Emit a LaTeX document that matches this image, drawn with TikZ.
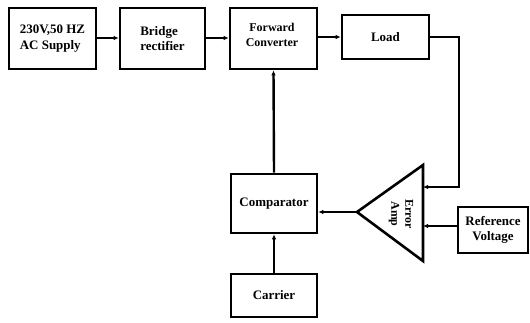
\documentclass[tikz,border=0pt]{standalone}
\usepackage{fontspec}
\setmainfont{Liberation Serif}
\usetikzlibrary{positioning}
\usetikzlibrary{calc}
\usetikzlibrary{arrows.meta}

\tikzset{
    blockbox/.style={draw, line width=2.6bp, inner sep=0pt, font=\bfseries\fontsize{13}{15.5}\selectfont},
    wire/.style={line width=2.4bp},
    sig/.style={wire, -{Latex[length=5bp,width=4.5bp]}}
}

\begin{document}
\begin{tikzpicture}[x=1bp, y=-1bp]
    \useasboundingbox (0,0) rectangle (530,322);

    % top row
    \node[blockbox, minimum width=87bp, minimum height=61bp, align=left] (ac) at (52.5,38.5) {230V,50 HZ\\AC Supply};
    \node[blockbox, minimum width=85bp, minimum height=61bp, align=left] (br) at (162.5,38.5) {Bridge\\rectifier};
    \node[blockbox, minimum width=87bp, minimum height=61bp] (fc) at (273.5,38.5) {};
    \node[font=\bfseries\fontsize{12}{15}\selectfont, align=center] at (272,34.5) {Forward\\Converter};
    \node[blockbox, minimum width=87bp, minimum height=44bp] (load) at (385.5,37) {Load};

    % control loop
    \node[blockbox, minimum width=86bp, minimum height=59bp] (cmp) at (274,203.5) {Comparator};
    \node[blockbox, minimum width=86bp, minimum height=43bp] (car) at (274,295.5) {Carrier};
    \node[blockbox, minimum width=70bp, minimum height=46bp, align=center] (ref) at (493,230) {Reference\\Voltage};

    % error amplifier
    \draw[line width=2.6bp, line join=miter] (423,165) -- (357,212) -- (423,261) -- cycle;
    \coordinate (ampOut) at (357,212);
    \coordinate (ampA) at (423,187);
    \coordinate (ampB) at (423,226);
    \node[rotate=-90, font=\bfseries\fontsize{12}{14}\selectfont, align=center] at (401,214) {Error\\Amp};

    \draw[sig] (ac.east |- 0,38) -- (br.west |- 0,38);
    \draw[sig] (br.east |- 0,38) -- (fc.west |- 0,38);
    \draw[sig] (fc.east |- 0,37) -- (load.west);
    \draw[sig] (load.east) -| (459,187) -- (ampA);
    \draw[sig] (ref.west |- ampB) -- (ampB);
    \draw[sig] (ampOut) -- (cmp.east |- ampOut);
    \draw[sig] (car.north) -- (cmp.south);
    \draw[sig] (cmp.north) -- (fc.south);
\end{tikzpicture}
\end{document}
